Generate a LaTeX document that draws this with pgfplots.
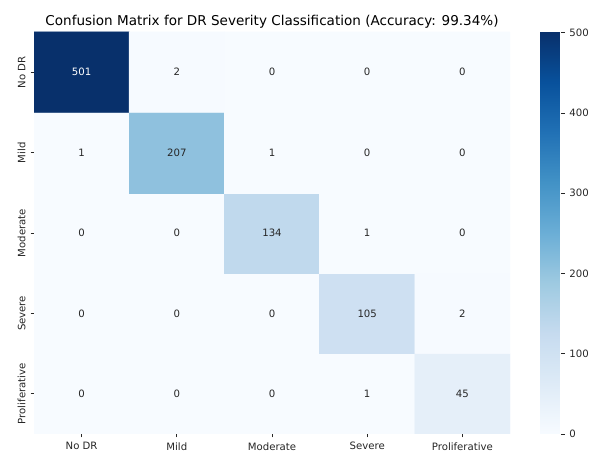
\documentclass[border=0pt]{standalone}
\usepackage{pgfplots}
\pgfplotsset{compat=1.18}
\usepackage{fontspec}
\setmainfont{DejaVu Sans}
\definecolor{annot}{HTML}{262626}
\definecolor{tickc}{HTML}{262626}
\pgfplotsset{colormap={sbblues}{rgb255=(247,251,255) rgb255=(222,235,247) rgb255=(198,219,239) rgb255=(158,202,225) rgb255=(107,174,214) rgb255=(66,146,198) rgb255=(33,113,181) rgb255=(8,81,156) rgb255=(8,48,107)}}
\begin{document}
\begin{tikzpicture}
\useasboundingbox (0,0) rectangle (431.28pt,325.44pt);
\begin{axis}[
 at={(24.48pt,12.96pt)}, anchor=south west,
 scale only axis, width=342.72pt, height=289.44pt,
 xmin=-0.5, xmax=4.5, ymin=-0.5, ymax=4.5,
 enlargelimits=false,
 axis line style={draw=none},
 xtick={0,...,4}, ytick={0,...,4},
 xticklabels={No DR,Mild,Moderate,Severe,Proliferative},
 yticklabels={Proliferative,Severe,Moderate,Mild,No DR},
 xtick pos=bottom, ytick pos=left,
 tick align=outside, major tick length=2.5pt,
 tick style={draw=tickc, line width=0.58pt},
 ticklabel style={font=\fontsize{7.3}{8.8}\selectfont, text=tickc},
 yticklabel style={rotate=90, anchor=south},
 colormap name=sbblues,
 point meta min=0, point meta max=501,
 colorbar,
 colorbar style={
   at={(parent axis.south east)}, anchor=south west, xshift=13.1pt,
   scale only axis, width=15.12pt, height=289.44pt,
   axis line style={draw=none},
   ytick={0,100,...,500}, yticklabel pos=right, ytick pos=right,
   tick align=outside, major tick length=2.5pt,
   tick style={draw=tickc, line width=0.58pt},
   yticklabel style={font=\fontsize{7.3}{8.8}\selectfont, text=tickc, /pgf/number format/assume math mode=true},
 },
 title={Confusion Matrix for DR Severity Classification (Accuracy: 99.34\%)},
 title style={font=\fontsize{9.75}{11.7}\selectfont, at={(0.5,1)}, anchor=base, yshift=-1pt},
]
\addplot[matrix plot*, mesh/cols=5, point meta=explicit, draw=none] table[meta=c] {
x y c
0 0 0
1 0 0
2 0 0
3 0 1
4 0 45
0 1 0
1 1 0
2 1 0
3 1 105
4 1 2
0 2 0
1 2 0
2 2 134
3 2 1
4 2 0
0 3 1
1 3 207
2 3 1
3 3 0
4 3 0
0 4 501
1 4 2
2 4 0
3 4 0
4 4 0
};
\addplot[only marks, mark=none, nodes near coords, point meta=explicit symbolic,
  nodes near coords style={anchor=center, font=\fontsize{7.3}{8.8}\selectfont, text=annot}] table[meta=c] {
x y c
0 0 0
1 0 0
2 0 0
3 0 1
4 0 45
0 1 0
1 1 0
2 1 0
3 1 105
4 1 2
0 2 0
1 2 0
2 2 134
3 2 1
4 2 0
0 3 1
1 3 207
2 3 1
3 3 0
4 3 0
1 4 2
2 4 0
3 4 0
4 4 0
};
\addplot[only marks, mark=none, nodes near coords, point meta=explicit symbolic,
  nodes near coords style={anchor=center, font=\fontsize{7.3}{8.8}\selectfont, text=white}] table[meta=c] {
x y c
0 4 501
};
\end{axis}
\end{tikzpicture}
\end{document}
